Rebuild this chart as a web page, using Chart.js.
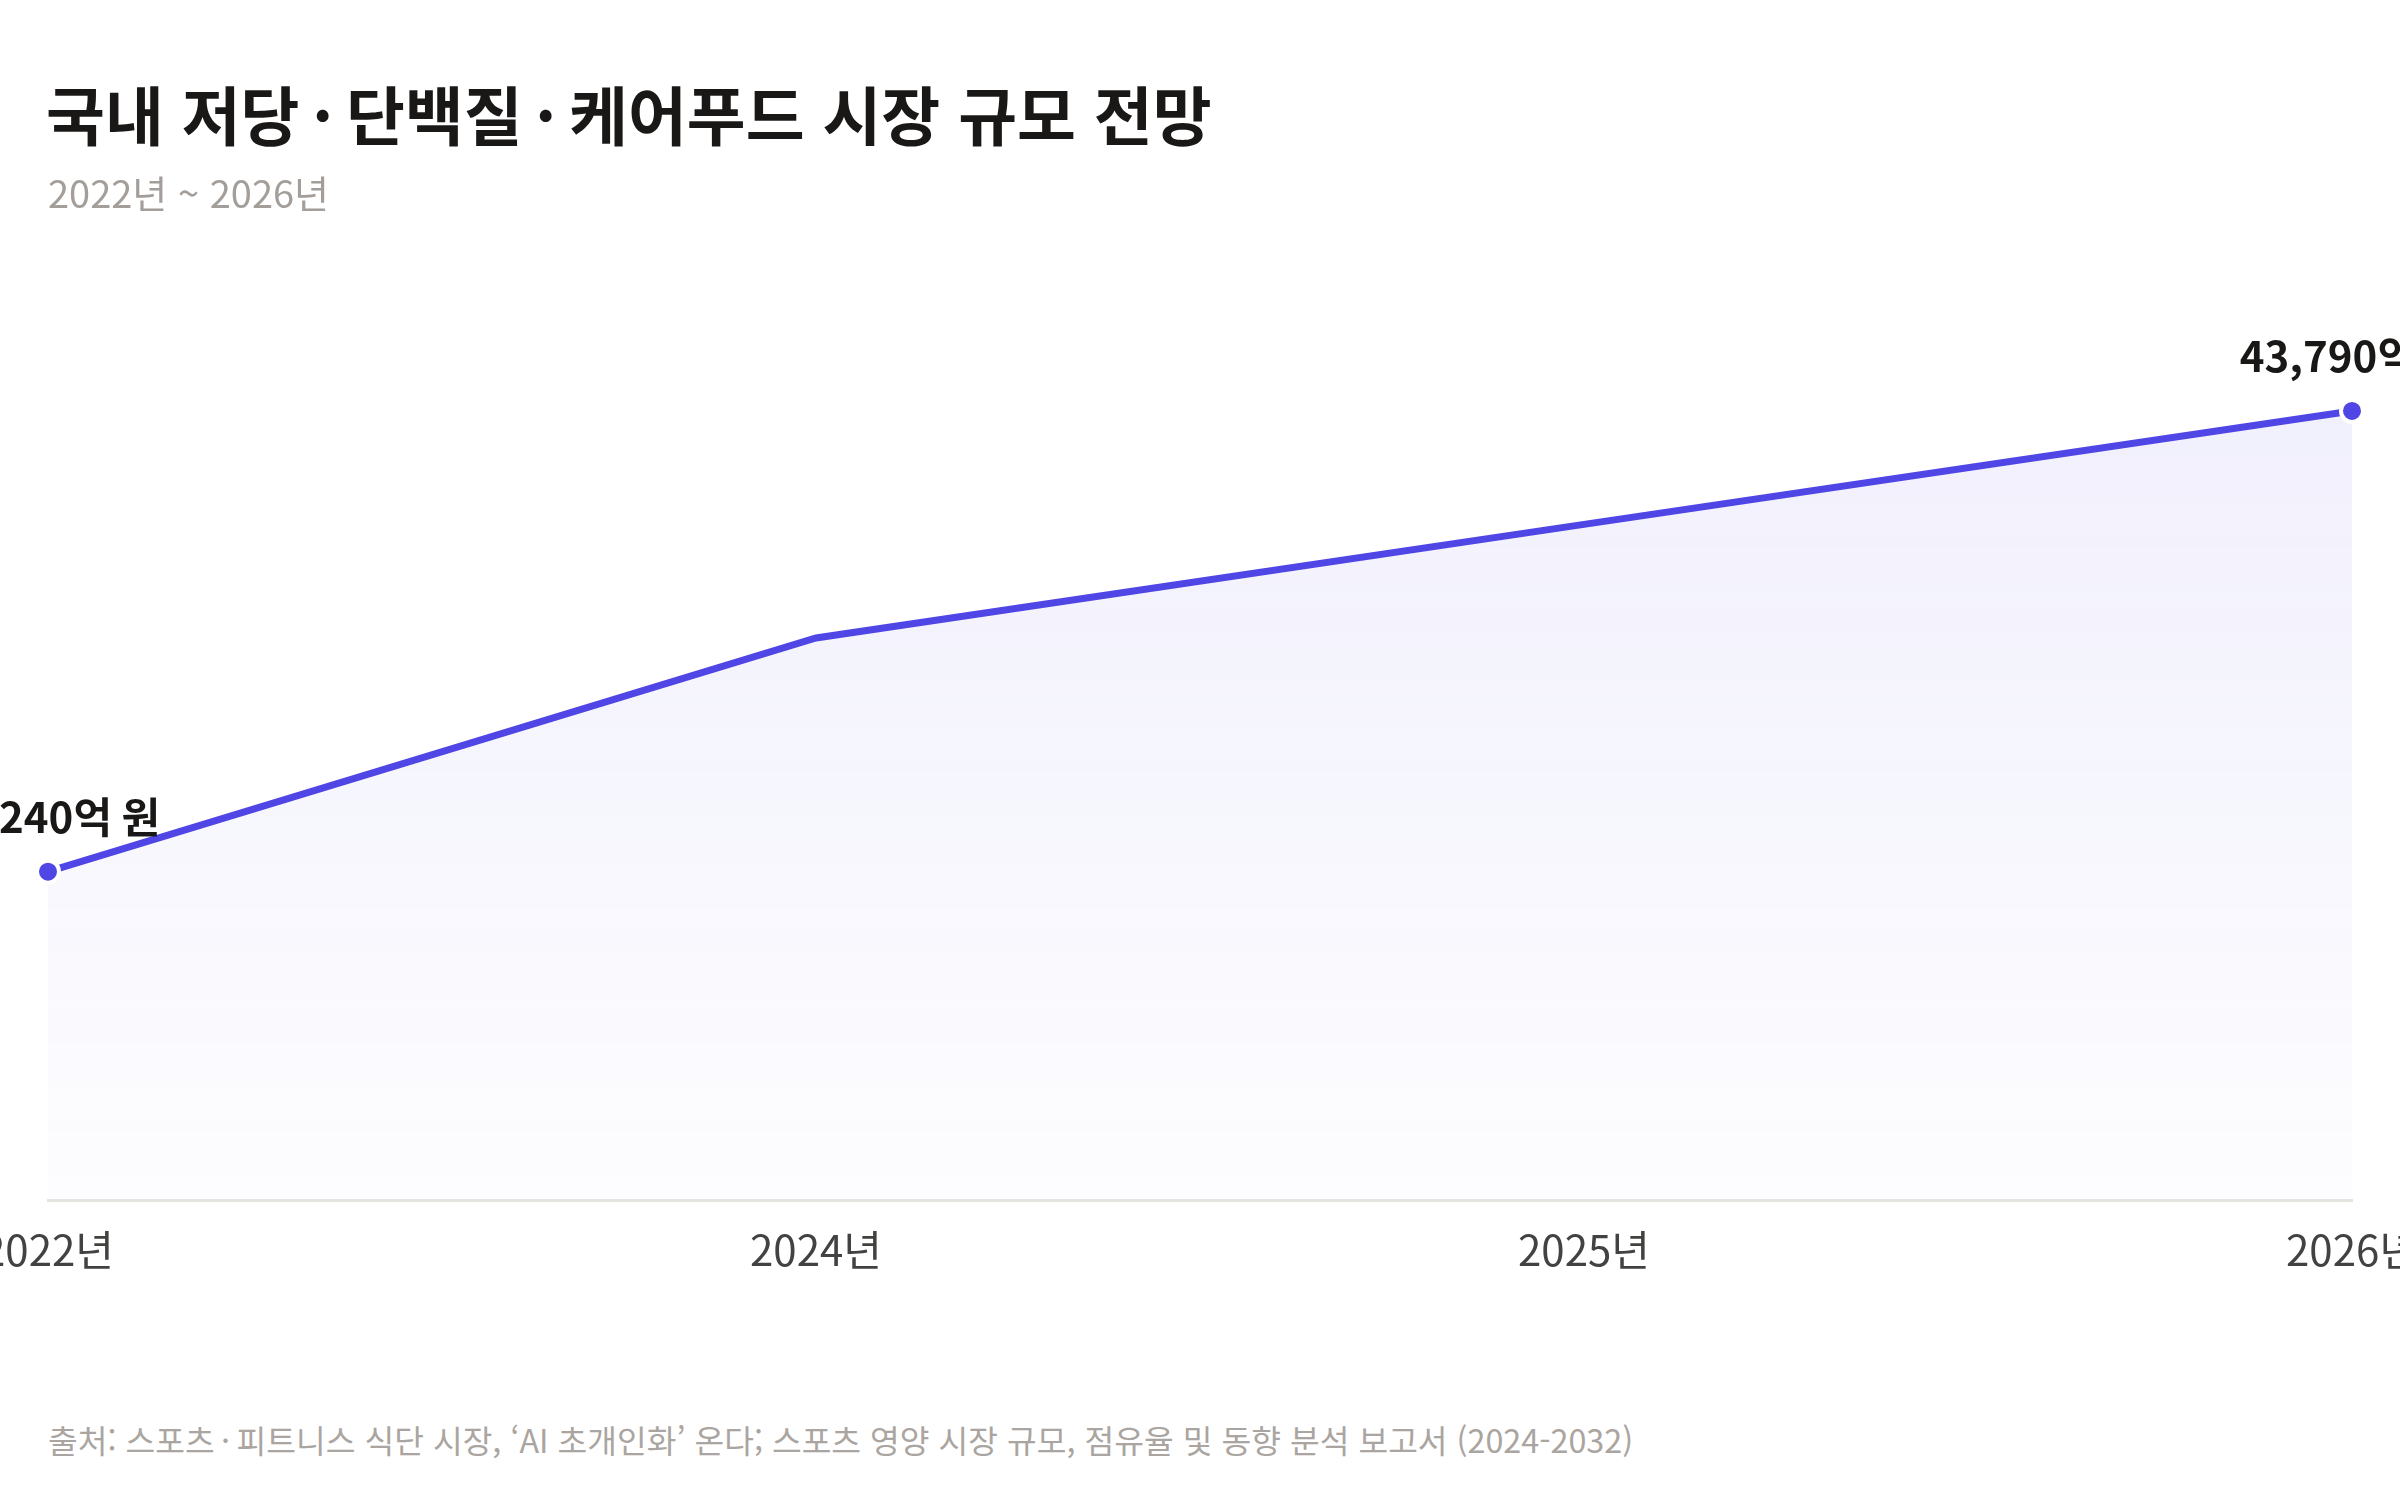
<!DOCTYPE html>
<html lang="ko">

<head>
    <meta charset="UTF-8">
    <title>국내 저당·단백질·케어푸드 시장 규모 전망</title>
    <script src="https://cdn.jsdelivr.net/npm/chart.js"></script>

    <style>
        html, body {
            margin: 0;
            padding: 0;
            width: 2400px;
            height: 1500px;
            overflow: hidden;
            background: #ffffff;
            font-family: "Noto Sans CJK KR", "Noto Sans", sans-serif;
        }
        #titolo {
            position: absolute;
            left: 46px;
            top: 74px;
            font-size: 64px;
            font-weight: 700;
            line-height: 1.2;
            color: #1a1816;
        }
        #sottotitolo {
            position: absolute;
            left: 48px;
            top: 169px;
            font-size: 38px;
            line-height: 1.2;
            color: #a39e99;
        }
        #contenitore {
            position: absolute;
            left: 0;
            top: 0;
            width: 2400px;
            height: 1321px;
        }
        #fonte {
            position: absolute;
            left: 48px;
            top: 1420px;
            font-size: 32.3px;
            line-height: 1.2;
            color: #aaa5a0;
        }
    </style>
</head>

<body>
    <div id="contenitore"><canvas id="grafico"></canvas></div>
    <div id="titolo">국내 저당&thinsp;·&thinsp;단백질&thinsp;·&thinsp;케어푸드 시장 규모 전망</div>
    <div id="sottotitolo">2022년 ~ 2026년</div>
    <div id="fonte">출처: 스포츠&thinsp;·&thinsp;피트니스 식단 시장, ‘AI 초개인화’ 온다; 스포츠 영양 시장 규모, 점유율 및 동향 분석 보고서 (2024-2032)</div>

    <script>
        // dati (억 원)
        const anni = ['2022년', '2024년', '2025년', '2026년'];
        const valori = [18240, 31200, 37500, 43790];
        const unita = '억 원';

        const viola = '#4f46e5';
        const ultimo = valori.length - 1;

        // etichette sopra il primo e l'ultimo punto
        const etichette = {
            id: 'etichette',
            afterDatasetsDraw(chart) {
                const ctx = chart.ctx;
                const punti = chart.getDatasetMeta(0).data;
                ctx.save();
                ctx.font = '700 42px "Noto Sans CJK KR", sans-serif';
                ctx.fillStyle = '#1a1816';
                ctx.textAlign = 'center';
                ctx.textBaseline = 'bottom';
                [0, ultimo].forEach(i => {
                    const testo = valori[i].toLocaleString('en-US') + unita;
                    ctx.fillText(testo, punti[i].x, punti[i].y - 34);
                });
                ctx.restore();
            }
        };

        const canvas = document.getElementById('grafico').getContext('2d');

        const grafico = new Chart(canvas, {
            type: 'line',
            data: {
                labels: anni,
                datasets: [{
                    data: valori,
                    borderColor: viola,
                    borderWidth: 7,
                    tension: 0,
                    fill: 'origin',
                    backgroundColor: (c) => {
                        const area = c.chart.chartArea;
                        if (!area) return 'rgba(79,70,229,0.06)';
                        const g = c.chart.ctx.createLinearGradient(0, area.top, 0, area.bottom);
                        g.addColorStop(0, 'rgba(79,70,229,0.09)');
                        g.addColorStop(1, 'rgba(79,70,229,0.01)');
                        return g;
                    },
                    pointRadius: (c) => (c.dataIndex === 0 || c.dataIndex === ultimo) ? 11 : 0,
                    pointHoverRadius: 0,
                    pointBackgroundColor: viola,
                    pointBorderColor: '#ffffff',
                    pointBorderWidth: 4
                }]
            },
            options: {
                responsive: true,
                maintainAspectRatio: false,
                animation: false,
                layout: {
                    padding: { top: 299, left: 48, right: 48, bottom: 22 }
                },
                plugins: {
                    legend: { display: false },
                    tooltip: { enabled: false }
                },
                scales: {
                    x: {
                        offset: false,
                        grid: { display: false, drawTicks: false },
                        border: { display: true, color: '#e6e4e1', width: 3 },
                        ticks: {
                            padding: 24,
                            color: '#444240',
                            font: { size: 42, family: '"Noto Sans CJK KR", sans-serif' }
                        },
                        afterFit: (s) => { s.paddingLeft = 0; s.paddingRight = 0; }
                    },
                    y: {
                        display: false,
                        min: 0,
                        max: 50000
                    }
                }
            },
            plugins: [etichette]
        });
    </script>
</body>

</html>
